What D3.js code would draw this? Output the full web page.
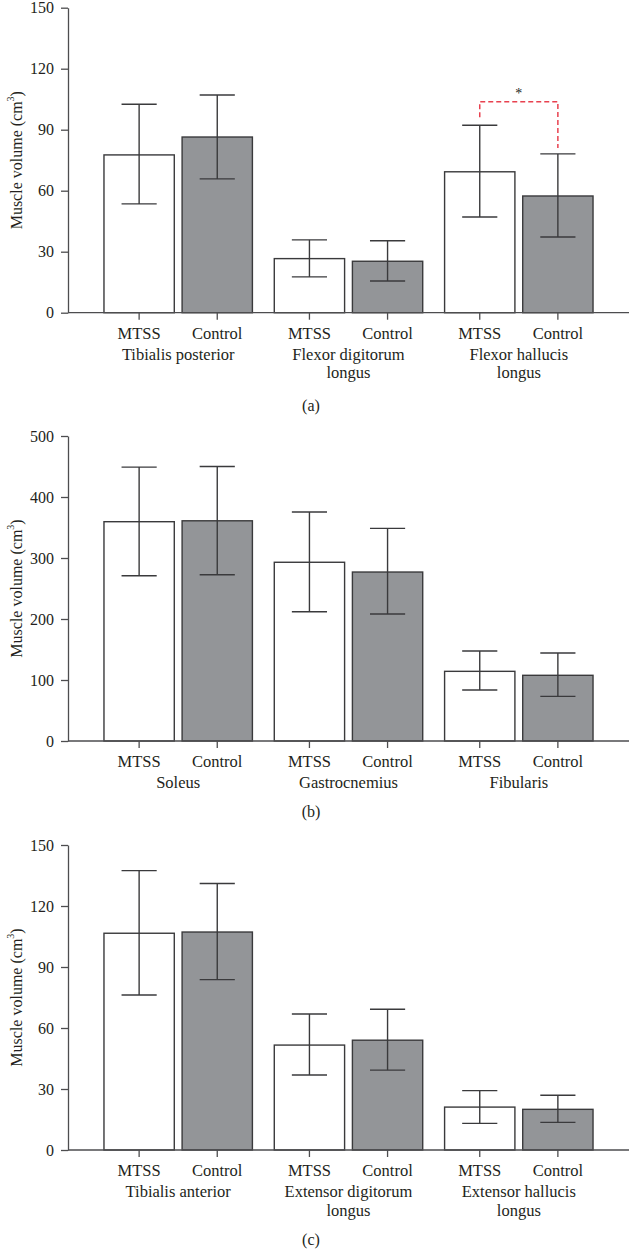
<!DOCTYPE html>
<html>
<head>
<meta charset="utf-8">
<script src="https://cdn.jsdelivr.net/npm/d3@7"></script>
<style>
  html, body { margin: 0; padding: 0; background: #fff; }
  svg { display: block; }
  text { font-family: "Liberation Serif", "DejaVu Serif", serif; fill: #231f20; }
</style>
</head>
<body>
<svg id="chart" width="629" height="1249"></svg>
<script>
// ---- data ----
const seriesNames = ["MTSS", "Control"];

const groupsA = ["Tibialis posterior", "Flexor digitorum\nlongus", "Flexor hallucis\nlongus"];
const meanA_MTSS = [77.6, 26.6, 69.3];
const meanA_Control = [86.4, 25.3, 57.4];
const errHiA_MTSS = [102.5, 35.8, 92.2];
const errLoA_MTSS = [53.5, 17.6, 47.1];
const errHiA_Control = [107.1, 35.4, 78.1];
const errLoA_Control = [65.8, 15.6, 37.2];
const ticksA = [0, 30, 60, 90, 120, 150];

const groupsB = ["Soleus", "Gastrocnemius", "Fibularis"];
const meanB_MTSS = [359.5, 293, 114.2];
const meanB_Control = [361, 277, 107.7];
const errHiB_MTSS = [449, 375.4, 147.5];
const errLoB_MTSS = [271, 212, 83.6];
const errHiB_Control = [450, 348.6, 144.3];
const errLoB_Control = [272.6, 208.2, 73.2];
const ticksB = [0, 100, 200, 300, 400, 500];

const groupsC = ["Tibialis anterior", "Extensor digitorum\nlongus", "Extensor hallucis\nlongus"];
const meanC_MTSS = [106.6, 51.6, 21.1];
const meanC_Control = [107.2, 54.0, 20.0];
const errHiC_MTSS = [137.4, 66.9, 29.2];
const errLoC_MTSS = [76.2, 36.9, 13.1];
const errHiC_Control = [131.1, 69.2, 26.9];
const errLoC_Control = [83.8, 39.3, 13.6];
const ticksC = [0, 30, 60, 90, 120, 150];

// significance marker (panel a, Flexor hallucis longus)
const sigGroupA = 2;
const sigLabel = "*";

const panelLabels = ["(a)", "(b)", "(c)"];

// ---- drawing ----
const svg = d3.select("#chart");
const axisColor = "#4d4d4f";
const fillColors = { MTSS: "#ffffff", Control: "#939598" };

function buildRows(groups, mM, mC, hM, lM, hC, lC) {
  return groups.map((g, i) => ({
    group: g,
    bars: [
      { s: "MTSS", v: mM[i], hi: hM[i], lo: lM[i] },
      { s: "Control", v: mC[i], hi: hC[i], lo: lC[i] }
    ]
  }));
}

function drawPanel(cfg) {
  const left = 68, right = 629;
  const top = cfg.top, bottom = cfg.top + 305;
  const g = svg.append("g");

  const y = d3.scaleLinear().domain([0, cfg.ticks[cfg.ticks.length - 1]]).range([bottom, top]);
  const x0 = d3.scaleBand().domain(cfg.rows.map(r => r.group)).range([left, right])
    .paddingInner(0).paddingOuter(0.147);
  const x1 = d3.scaleBand().domain(seriesNames).range([0, x0.bandwidth()])
    .paddingInner(0.1).paddingOuter(0.14);

  // bars
  const grp = g.selectAll("g.grp").data(cfg.rows).join("g")
    .attr("transform", d => `translate(${x0(d.group)},0)`);
  grp.selectAll("rect").data(d => d.bars).join("rect")
    .attr("x", d => x1(d.s))
    .attr("y", d => y(d.v))
    .attr("width", x1.bandwidth())
    .attr("height", d => y(0) - y(d.v))
    .attr("fill", d => fillColors[d.s])
    .attr("stroke", "#3a3a3c")
    .attr("stroke-width", 1.4);

  // error bars
  const capW = x1.bandwidth() / 2;
  const eb = grp.selectAll("g.eb").data(d => d.bars).join("g")
    .attr("transform", d => `translate(${x1(d.s) + x1.bandwidth() / 2},0)`)
    .attr("stroke", "#3a3a3c").attr("stroke-width", 1.4);
  eb.append("line").attr("x1", 0).attr("x2", 0).attr("y1", d => y(d.hi)).attr("y2", d => y(d.lo));
  eb.append("line").attr("x1", -capW / 2).attr("x2", capW / 2).attr("y1", d => y(d.hi)).attr("y2", d => y(d.hi));
  eb.append("line").attr("x1", -capW / 2).attr("x2", capW / 2).attr("y1", d => y(d.lo)).attr("y2", d => y(d.lo));

  // y axis
  const ya = g.append("g").attr("transform", `translate(${left},0)`)
    .call(d3.axisLeft(y).tickValues(cfg.ticks).tickSize(7).tickSizeOuter(0).tickPadding(7));
  ya.attr("font-size", 16).attr("font-family", "Liberation Serif");
  ya.select(".domain").attr("stroke", axisColor).attr("stroke-width", 1.3);
  ya.selectAll(".tick line").attr("stroke", axisColor).attr("stroke-width", 1.3);
  ya.selectAll(".tick text").style("font-family", "'Liberation Serif', serif")
    .style("font-size", "16px").attr("fill", "#231f20");

  // x axis line
  g.append("line").attr("x1", left).attr("x2", right).attr("y1", bottom).attr("y2", bottom)
    .attr("stroke", axisColor).attr("stroke-width", 1.3);

  // x ticks and series labels
  cfg.rows.forEach(r => {
    r.bars.forEach(b => {
      const cx = x0(r.group) + x1(b.s) + x1.bandwidth() / 2;
      g.append("line").attr("x1", cx).attr("x2", cx).attr("y1", bottom).attr("y2", bottom + 7)
        .attr("stroke", axisColor).attr("stroke-width", 1.3);
      g.append("text").attr("x", cx).attr("y", bottom + 20.5)
        .attr("text-anchor", "middle").attr("dominant-baseline", "central")
        .style("font-size", "16.5px").text(b.s);
    });
    const gx = x0(r.group) + x0.bandwidth() / 2;
    r.group.split("\n").forEach((line, k) => {
      g.append("text").attr("x", gx).attr("y", bottom + 41.5 + k * 18.5)
        .attr("text-anchor", "middle").attr("dominant-baseline", "central")
        .style("font-size", "16.5px").text(line);
    });
  });

  // y label
  const cy = (top + bottom) / 2;
  const yl = g.append("text")
    .attr("transform", `translate(16,${cy}) rotate(-90)`)
    .attr("text-anchor", "middle").attr("dominant-baseline", "central")
    .style("font-size", "16px");
  yl.append("tspan").text("Muscle volume (cm");
  yl.append("tspan").attr("baseline-shift", "super").style("font-size", "10px").text("3");
  yl.append("tspan").text(")");

  // panel label
  g.append("text").attr("x", 311).attr("y", bottom + cfg.labelOffset)
    .attr("text-anchor", "middle").attr("dominant-baseline", "central")
    .style("font-size", "16px").text(cfg.label);

  // significance bracket
  if (cfg.sig != null) {
    const r = cfg.rows[cfg.sig];
    const cxA = x0(r.group) + x1("MTSS") + x1.bandwidth() / 2;
    const cxB = x0(r.group) + x1("Control") + x1.bandwidth() / 2;
    const yTop = y(r.bars[0].hi) - 23.5;
    const path = d3.path();
    path.moveTo(cxA, y(r.bars[0].hi) - 8);
    path.lineTo(cxA, yTop);
    path.lineTo(cxB, yTop);
    path.lineTo(cxB, y(r.bars[1].hi) - 6);
    g.append("path").attr("d", path.toString())
      .attr("fill", "none").attr("stroke", "#e8414f").attr("stroke-width", 1.5)
      .attr("stroke-dasharray", "5,3");
    g.append("text").attr("x", (cxA + cxB) / 2).attr("y", yTop - 8)
      .attr("text-anchor", "middle").attr("dominant-baseline", "central")
      .style("font-size", "14px").attr("fill", "#6d6e71").text(cfg.sigText);
  }
}

drawPanel({
  top: 7.7, ticks: ticksA, label: panelLabels[0], labelOffset: 92.5,
  rows: buildRows(groupsA, meanA_MTSS, meanA_Control, errHiA_MTSS, errLoA_MTSS, errHiA_Control, errLoA_Control),
  sig: sigGroupA, sigText: sigLabel
});
drawPanel({
  top: 436, ticks: ticksB, label: panelLabels[1], labelOffset: 70.7,
  rows: buildRows(groupsB, meanB_MTSS, meanB_Control, errHiB_MTSS, errLoB_MTSS, errHiB_Control, errLoB_Control),
  sig: null
});
drawPanel({
  top: 845, ticks: ticksC, label: panelLabels[2], labelOffset: 89.5,
  rows: buildRows(groupsC, meanC_MTSS, meanC_Control, errHiC_MTSS, errLoC_MTSS, errHiC_Control, errLoC_Control),
  sig: null
});
</script>
</body>
</html>
